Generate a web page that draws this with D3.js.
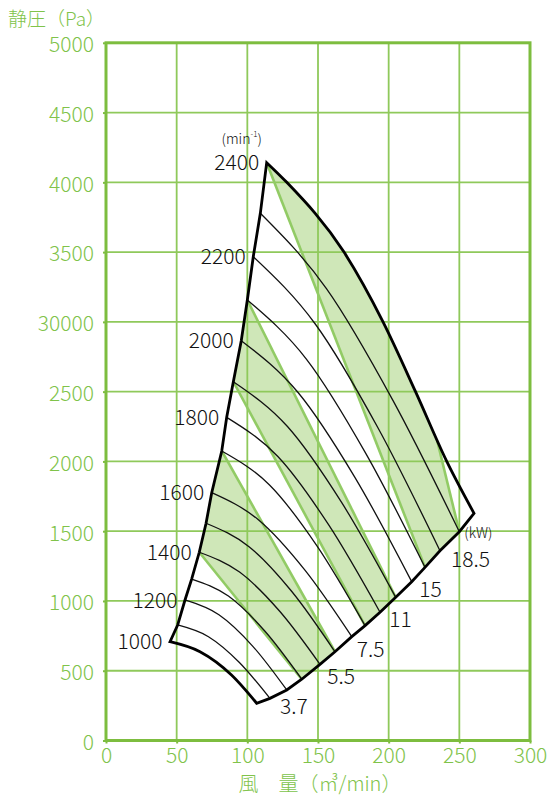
<!DOCTYPE html>
<html>
<head>
<meta charset="utf-8">
<script src="https://cdn.jsdelivr.net/npm/d3@7"></script>
<style>
  body { margin: 0; background: #fff; }
  svg { display: block; }
  text { font-family: "Noto Sans CJK JP", "Noto Sans", sans-serif; font-weight: 300; }
</style>
</head>
<body>
<svg id="chart" width="550" height="797"></svg>
<script>
// Fan speed curves (min^-1): static pressure (Pa) vs air volume (m3/min)
const rpm = [1000, 1100, 1200, 1300, 1400, 1500, 1600, 1700, 1800, 1900, 2000, 2100, 2200, 2300, 2400];
// surge-side start of each speed curve
const surgeQ = [45.3, 50.7, 55.9, 60.6, 66.0, 70.8, 74.8, 81.9, 85.4, 90.1, 95.7, 100.0, 104.2, 109.2, 113.7];
const surgeP = [708, 828, 1007, 1157, 1349, 1557, 1776, 2075, 2316, 2571, 2865, 3157, 3467, 3778, 4141];
// two interior points of each curve (1000 .. 2300)
const innerQ1 = [66.5, 72.5, 79.9, 86.6, 94.5, 101.2, 107.8, 115.7, 121.6, 128.4, 135.9, 141.9, 148.2, 156.1];
const innerP1 = [636, 744, 901, 1035, 1207, 1389, 1582, 1831, 2035, 2250, 2494, 2732, 2983, 3237];
const innerQ2 = [88.8, 94.2, 103.9, 112.5, 122.9, 131.6, 140.9, 149.5, 157.7, 166.7, 176.1, 183.8, 192.3, 203.1];
const innerP2 = [469, 561, 675, 783, 926, 1066, 1219, 1391, 1543, 1706, 1886, 2058, 2243, 2436];
// lower limit end of each speed curve
const limitQ = [106.6, 116.0, 127.9, 138.5, 151.4, 162.0, 173.9, 183.3, 193.9, 205.0, 216.3, 225.7, 236.3, 250.0, 260.4];
const limitP = [267, 302, 362, 439, 546, 636, 744, 823, 919, 1026, 1138, 1241, 1360, 1496, 1628];
// 2400 min^-1 curve interior points
const topQ = [127.9, 168.4, 196.0, 219.0, 241.1];
const topP = [4000, 3500, 3000, 2500, 2000];

// motor output zones (kW)
const kwLabels = ["3.7", "5.5", "7.5", "11", "15", "18.5"];
const kwQ = [123.1, 156.6, 177.4, 200.4, 221.7, 244.1];
const kwP = [247, 462, 656, 871, 1086, 1298];
const kwUnitQ = 253.5, kwUnitP = 1490;
// zone bands: speed range on the surge side, speed range on the limit side
const bandA = { surge: [1400, 1700], limit: [1300, 1500] };
const bandB = { surge: [1900, 2100], limit: [1700, 1900] };
const bandC = { apex: 2400, breakQ: 234.3, breakP: 2150, limit: [2100, 2300] };

// axes
const xTicks = [0, 50, 100, 150, 200, 250, 300];
const yTicks = [0, 500, 1000, 1500, 2000, 2500, 3000, 3500, 4000, 4500, 5000];
const yTickLabels = ["0", "500", "1000", "1500", "2000", "2500", "30000", "3500", "4000", "4500", "5000"];
const rpmLabelled = [1000, 1200, 1400, 1600, 1800, 2000, 2200, 2400];

const green = "#7dbd3f", gridGreen = "#8fc95b", labelGreen = "#80c34a";
const bandFill = "#cfe7b8", bandEdge = "#92cb65";

const svg = d3.select("#chart");
const x = d3.scaleLinear().domain([0, 300]).range([106, 530]);
const y = d3.scaleLinear().domain([0, 5000]).range([740.5, 42.8]);

const idx = r => rpm.indexOf(r);
const S = i => [surgeQ[i], surgeP[i]];
const L = i => [limitQ[i], limitP[i]];

const smooth = d3.line().x(d => x(d[0])).y(d => y(d[1])).curve(d3.curveMonotoneX);
const straight = d3.line().x(d => x(d[0])).y(d => y(d[1]));

// point lists of each speed curve
const curves = rpm.map((r, i) => {
  if (r === 2400) return [S(i), ...topQ.map((q, k) => [q, topP[k]]), L(i)];
  return [S(i), [innerQ1[i], innerP1[i]], [innerQ2[i], innerP2[i]], L(i)];
});

// outline of the operating range, joined into one path
function chain(p) {
  let first = true;
  return {
    moveTo(a, b) { if (first) { p.moveTo(a, b); first = false; } else p.lineTo(a, b); },
    lineTo(a, b) { p.lineTo(a, b); },
    bezierCurveTo(a, b, c, d, e, f) { p.bezierCurveTo(a, b, c, d, e, f); },
    quadraticCurveTo(a, b, c, d) { p.quadraticCurveTo(a, b, c, d); },
    closePath() { p.closePath(); }
  };
}
const env = d3.path();
const ctx = chain(env);
const n = rpm.length;
smooth.context(ctx)(curves[0]);
straight.context(ctx)(rpm.map((r, i) => L(i)));
smooth.context(ctx)(curves[n - 1].slice().reverse());
straight.context(ctx)(rpm.map((r, i) => S(i)).reverse());
env.closePath();
smooth.context(null); straight.context(null);
const envD = env.toString();

svg.append("defs").append("clipPath").attr("id", "envClip")
  .append("path").attr("d", envD);

// zone fills
function rangeIdx(a, b) { const out = []; for (let i = idx(a); i <= idx(b); i++) out.push(i); return out; }
const polyA = [...rangeIdx(bandA.surge[0], bandA.surge[1]).map(S), ...rangeIdx(bandA.limit[0], bandA.limit[1]).reverse().map(L)];
const polyB = [...rangeIdx(bandB.surge[0], bandB.surge[1]).map(S), ...rangeIdx(bandB.limit[0], bandB.limit[1]).reverse().map(L)];
const polyC = [S(idx(bandC.apex)), [x.domain()[1], y.domain()[1]], [bandC.breakQ, bandC.breakP],
  ...rangeIdx(bandC.limit[0], bandC.limit[1]).reverse().map(L)];

const bands = svg.append("g").attr("clip-path", "url(#envClip)");
[polyA, polyB, polyC].forEach(poly => {
  bands.append("path").attr("d", straight(poly) + "Z").attr("fill", bandFill).attr("stroke", "none");
});

// grid
const grid = svg.append("g").attr("stroke", gridGreen).attr("stroke-width", 1.8);
xTicks.slice(1, -1).forEach(t => grid.append("line")
  .attr("x1", x(t)).attr("x2", x(t)).attr("y1", y(0)).attr("y2", y(5000)));
yTicks.slice(1, -1).forEach(t => grid.append("line")
  .attr("x1", x(0)).attr("x2", x(300)).attr("y1", y(t)).attr("y2", y(t)));

// zone edges
const edges = [
  [S(idx(bandA.surge[1])), L(idx(bandA.limit[1]))],
  [S(idx(bandA.surge[0])), L(idx(bandA.limit[0]))],
  [S(idx(bandB.surge[1])), L(idx(bandB.limit[1]))],
  [S(idx(bandB.surge[0])), L(idx(bandB.limit[0]))],
  [S(idx(bandC.apex)), L(idx(bandC.limit[0]))],
  [[bandC.breakQ, bandC.breakP], L(idx(bandC.limit[1]))]
];
svg.append("g").attr("clip-path", "url(#envClip)").selectAll("path").data(edges).join("path")
  .attr("d", d => straight(d)).attr("fill", "none")
  .attr("stroke", bandEdge).attr("stroke-width", 2.6);

// inner speed curves
svg.append("g").selectAll("path").data(curves.slice(1, -1)).join("path")
  .attr("d", d => smooth(d)).attr("fill", "none")
  .attr("stroke", "#111").attr("stroke-width", 1.3);

// outline
svg.append("path").attr("d", envD).attr("fill", "none")
  .attr("stroke", "#000").attr("stroke-width", 2.8).attr("stroke-linejoin", "miter");

// axes
const yAxis = d3.axisLeft(y).tickValues(yTicks).tickSize(3).tickPadding(9)
  .tickFormat((d, i) => yTickLabels[i]);
const xAxis = d3.axisBottom(x).tickValues(xTicks).tickSize(3).tickPadding(5)
  .tickFormat(d => String(d));
const gy = svg.append("g").attr("transform", `translate(${x(0)},0)`).call(yAxis);
const gx = svg.append("g").attr("transform", `translate(0,${y(0)})`).call(xAxis);
[gx, gy].forEach(g => {
  g.select(".domain").remove();
  g.selectAll(".tick line").attr("stroke", green).attr("stroke-width", 2);
  g.selectAll(".tick text").attr("fill", labelGreen).attr("font-size", 21)
    .attr("font-family", "\"Noto Sans CJK JP\", \"Noto Sans\", sans-serif").attr("font-weight", 300);
});
gy.selectAll(".tick text").attr("dy", "0.42em");

// frame
svg.append("rect").attr("x", x(0)).attr("y", y(5000))
  .attr("width", x(300) - x(0)).attr("height", y(0) - y(5000))
  .attr("fill", "none").attr("stroke", green).attr("stroke-width", 3);

// speed labels
const lab = svg.append("g").attr("font-size", 21).attr("fill", "#111");
rpmLabelled.forEach(r => {
  const i = idx(r);
  lab.append("text").attr("x", x(surgeQ[i]) - 7.5).attr("y", y(surgeP[i]))
    .attr("dy", "0.36em").attr("text-anchor", "end").text(r);
});
const apexI = idx(2400);
const unitT = svg.append("text").attr("x", x(surgeQ[apexI]) - 25).attr("y", y(surgeP[apexI]) - 24)
  .attr("dy", "0.36em").attr("text-anchor", "middle").attr("font-size", 14).attr("fill", "#111");
unitT.append("tspan").text("(min");
unitT.append("tspan").attr("font-size", 8).attr("dy", "-0.9em").text("-1");
unitT.append("tspan").attr("dy", "0.5em").text(")");

// output labels
kwLabels.forEach((t, i) => {
  lab.append("text").attr("x", x(kwQ[i])).attr("y", y(kwP[i])).attr("dy", "0.36em").text(t);
});
svg.append("text").attr("x", x(kwUnitQ)).attr("y", y(kwUnitP)).attr("dy", "0.36em")
  .attr("font-size", 14).attr("fill", "#111").text("(kW)");

// axis titles
svg.append("text").attr("x", 8).attr("y", 19).attr("dy", "0.36em")
  .attr("font-size", 19).attr("fill", labelGreen).text("静圧（Pa）");
svg.append("text").attr("x", 320).attr("y", 784).attr("dy", "0.36em").attr("text-anchor", "middle")
  .attr("font-size", 20).attr("fill", labelGreen).text("風　量（㎥/min）");
</script>
</body>
</html>
